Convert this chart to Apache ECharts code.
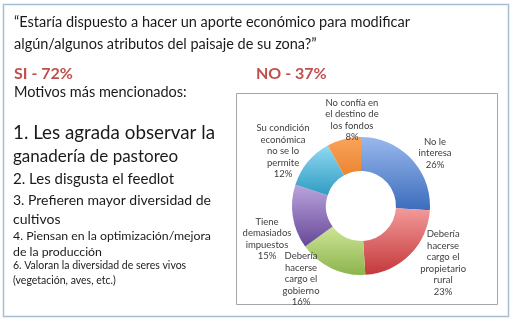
<!DOCTYPE html>
<html>
<head>
<meta charset="utf-8">
<script src="https://cdn.jsdelivr.net/npm/echarts@6/dist/echarts.min.js"></script>
<style>
  html, body { margin: 0; padding: 0; background: #ffffff; }
  #chart { width: 514px; height: 323px; }
</style>
</head>
<body>
<div id="chart"></div>
<script>
// Survey question and the two answer shares
const questionLines = [
  '\u201cEstaría dispuesto a hacer un aporte económico para modificar',
  'algún/algunos atributos del paisaje de su zona?\u201d'
];
const yesLabel = 'SI - 72%';
const noLabel = 'NO - 37%';

// Reasons given by those who answered yes
const motivesTitle = 'Motivos más mencionados:';
const motiveLines = [
  '1. Les agrada observar la',
  'ganadería de pastoreo',
  '2. Les disgusta el feedlot',
  '3. Prefieren mayor diversidad de',
  'cultivos',
  '4. Piensan en la optimización/mejora',
  'de la producción',
  '6. Valoran la diversidad de seres vivos',
  '(vegetación, aves, etc.)'
];

// Reasons given by those who answered no (percent of answers)
const reasonNames = [
  'No le\ninteresa',
  'Debería\nhacerse\ncargo el\npropietario\nrural',
  'Debería\nhacerse\ncargo el\ngobierno',
  'Tiene\ndemasiados\nimpuestos',
  'Su condición\neconómica\nno se lo\npermite',
  'No confía en\nel destino de\nlos fondos'
];
const reasonShares = [26, 23, 16, 15, 12, 8];

// --- styling ---
const FONT = 'Lato';
const sliceColors = [
  ['#9ab8ec', '#3b6cbd'],
  ['#f39a9a', '#c4383a'],
  ['#cde597', '#8cb44c'],
  ['#bba4de', '#664896'],
  ['#90d9f2', '#309cc2'],
  ['#f8a45c', '#ec8530']
];
// label placement around the ring: angular nudge (deg) and distance (px)
const labelNudge = [7.6, -10.2, 14.2, -10.3, -4.4, 8.4];
const labelDist = [91, 100, 94.5, 99.6, 95.4, 86.5];
const motiveFont = [18.8, 17, 15, 14, 14, 12.3, 12.3, 10.5, 10.5];
const motiveY = [133, 157, 179, 200, 219, 236, 252, 266, 281];

const CX = 361, CY = 206;

const chart = echarts.init(document.getElementById('chart'), null, { renderer: 'canvas' });

const total = reasonShares.reduce((a, b) => a + b, 0);
const midAngles = [];
let acc = 0;
reasonShares.forEach(v => { midAngles.push((acc + v / 2) / total * 360); acc += v; });

const graphics = [
  { type: 'rect', z: 0, shape: { x: 3.5, y: 4.5, width: 505, height: 312 },
    style: { fill: '#ffffff', stroke: '#a9bdd6', lineWidth: 1.5 } },
  { type: 'rect', z: 1, shape: { x: 236.5, y: 93.5, width: 261, height: 211 },
    style: { fill: '#ffffff', stroke: '#a6a6a6', lineWidth: 1 } }
];
const addText = (text, x, y, size, color, weight) => graphics.push({
  type: 'text', z: 5, x: x, y: y,
  style: { text: text, fill: color, font: (weight || 'normal') + ' ' + size + 'px ' + FONT,
           textAlign: 'left', textVerticalAlign: 'middle' }
});
addText(questionLines[0], 14, 22, 14.5, '#1a1a1a');
addText(questionLines[1], 14, 44, 14.5, '#1a1a1a');
addText(yesLabel, 14, 74, 16, '#c0504d', 'bold');
addText(noLabel, 256, 74, 16, '#c0504d', 'bold');
addText(motivesTitle, 14, 92, 14.5, '#1a1a1a');
motiveLines.forEach((t, i) => addText(t, 13, motiveY[i], motiveFont[i], '#1a1a1a'));

chart.setOption({
  animation: false,
  backgroundColor: '#ffffff',
  graphic: graphics,
  series: [{
    type: 'pie',
    z: 3,
    center: [CX, CY],
    radius: [35, 69],
    startAngle: 90,
    clockwise: true,
    avoidLabelOverlap: false,
    silent: true,
    label: {
      show: true,
      position: 'outside',
      formatter: p => p.name + '\n' + p.value + '%',
      fontFamily: FONT,
      fontSize: 9.5,
      lineHeight: 11.5,
      color: '#404040'
    },
    labelLine: { show: false },
    labelLayout: p => {
      const i = p.dataIndex;
      const a = (midAngles[i] + labelNudge[i]) * Math.PI / 180;
      return {
        x: CX + labelDist[i] * Math.sin(a),
        y: CY - labelDist[i] * Math.cos(a),
        align: 'center',
        verticalAlign: 'middle'
      };
    },
    data: reasonShares.map((v, i) => ({
      name: reasonNames[i],
      value: v,
      itemStyle: {
        color: new echarts.graphic.LinearGradient(0, 0, 0, 1, [
          { offset: 0, color: sliceColors[i][0] },
          { offset: 1, color: sliceColors[i][1] }
        ])
      }
    }))
  }]
});
</script>
</body>
</html>
